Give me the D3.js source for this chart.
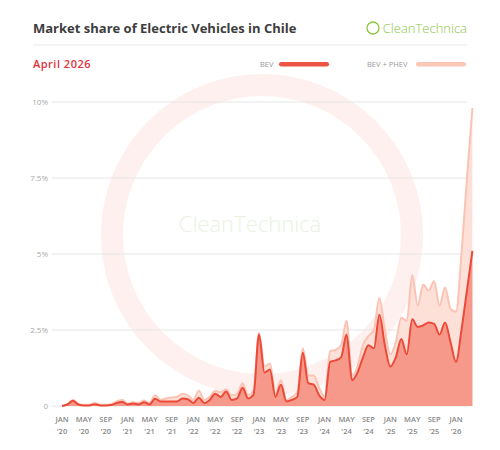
<!DOCTYPE html>
<html><head><meta charset="utf-8">
<script src="https://cdn.jsdelivr.net/npm/d3@7"></script>
<style>body{margin:0;background:#fff;font-family:"Open Sans",sans-serif}</style>
</head><body><svg id="mysvg" width="500" height="450"></svg>
<script>
// monthly market share, Jan 2020 .. Apr 2026 (percent)
let bev = [
 0,0.05,0.17,0.05,0.02,0.02,0.06,0.02,0.02,0.03,0.1,0.13,
 0.05,0.08,0.05,0.12,0.05,0.24,0.15,0.15,0.15,0.15,0.25,0.22,
 0.1,0.27,0.1,0.2,0.4,0.3,0.48,0.2,0.25,0.6,0.25,0.38,
 2.35,1.1,1.2,0.3,0.7,0.15,0.2,0.3,1.75,0.75,0.7,0.35,
 0.2,1.45,1.5,1.6,2.35,0.85,1.1,1.6,2.0,1.9,3.0,2.0,
 1.3,1.6,2.2,1.7,2.85,2.6,2.65,2.75,2.7,2.35,2.75,2.1,
 1.45,2.5,3.8,5.1
];
let bevPhev = [
 0,0.06,0.2,0.07,0.04,0.04,0.1,0.04,0.04,0.06,0.15,0.2,
 0.08,0.12,0.1,0.18,0.1,0.35,0.2,0.25,0.28,0.3,0.4,0.35,
 0.2,0.5,0.2,0.3,0.5,0.45,0.55,0.35,0.4,0.75,0.35,0.5,
 2.4,1.3,1.4,0.4,0.85,0.2,0.3,0.45,1.9,1.0,1.0,0.6,
 0.3,1.8,1.85,2.0,2.8,1.0,1.3,2.0,2.3,2.5,3.55,2.5,
 1.7,2.1,2.9,2.8,4.3,3.3,4.0,3.8,4.1,3.3,3.9,3.2,
 3.1,5.0,7.5,9.8
];
let yTicks = [0, 2.5, 5, 7.5, 10];
let yTickLabels = ["0", "2.5%", "5%", "7.5%", "10%"];
let monthNames = ["JAN","MAY","SEP"];

let svg = d3.select('#mysvg');
let x = d3.scaleLinear().domain([0, 72]).range([62, 456]);
let y = d3.scaleLinear().domain([0, 10]).range([406, 102]);

// watermark
svg.append("circle").attr("cx", 262).attr("cy", 235).attr("r", 150)
    .attr("fill", "none").attr("stroke", "#fdf0ee").attr("stroke-width", 22);
svg.append("text").attr("x", 250).attr("y", 232).attr("text-anchor", "middle")
    .attr("font-size", 22).attr("font-weight", 300).attr("fill", "#eaf2e3").text("CleanTechnica");

// header
svg.append("text").attr("x", 33).attr("y", 33).attr("font-size", 13).attr("font-weight", "bold")
    .attr("fill", "#3d3d3d").text("Market share of Electric Vehicles in Chile");
svg.append("text").attr("x", 467).attr("y", 33).attr("text-anchor", "end").attr("font-size", 13)
    .attr("font-weight", 300).attr("fill", "#8cc63f").text("CleanTechnica");
svg.append("circle").attr("cx", 373).attr("cy", 28).attr("r", 6).attr("fill", "none").attr("stroke", "#8cc63f").attr("stroke-width", 1.3);
svg.append("line").attr("x1", 33).attr("x2", 467).attr("y1", 45).attr("y2", 45).attr("stroke", "#e8e8e8");
svg.append("text").attr("x", 33).attr("y", 68).attr("font-size", 11).attr("font-weight", "600")
    .attr("fill", "#e0313b").attr("letter-spacing", 0.5).text("April 2026");

let legend = [{name:"BEV", x:260, color:"#ee5443"}, {name:"BEV + PHEV", x:367, color:"#fbc7b9"}];
legend.forEach(function(d){
    svg.append("text").attr("x", d.x).attr("y", 67).attr("font-size", 7.5).attr("fill", "#999").text(d.name);
    let w = d.name.length > 3 ? 47 : 17;
    svg.append("rect").attr("x", d.x + w + 2).attr("y", 62).attr("width", 50).attr("height", 4.5)
        .attr("rx", 2.2).attr("fill", d.color);
});

// grid
yTicks.forEach(function(t, i){
    svg.append("line").attr("x1", 52).attr("x2", 467).attr("y1", y(t)).attr("y2", y(t))
        .attr("stroke", "#e6e6e6");
    svg.append("text").attr("x", 48).attr("y", y(t) + 3).attr("text-anchor", "end")
        .attr("font-size", 8).attr("fill", "#aaa").text(yTickLabels[i]);
});

let curve = d3.curveMonotoneX;
let area = function(vals){
    return d3.area().x(function(d, i){return x(i)}).y0(y(0)).y1(function(d){return y(d)}).curve(curve)(vals);
};
let line = function(vals){
    return d3.line().x(function(d, i){return x(i)}).y(function(d){return y(d)}).curve(curve)(vals);
};

svg.append("path").attr("d", area(bevPhev)).attr("fill", "#fde0d8");
svg.append("path").attr("d", line(bevPhev)).attr("fill", "none").attr("stroke", "#fbc3b4").attr("stroke-width", 2);
svg.append("path").attr("d", area(bev)).attr("fill", "#f6998a");
svg.append("path").attr("d", line(bev)).attr("fill", "none").attr("stroke", "#ec4a38").attr("stroke-width", 2);

// x ticks
for (let m = 0; m <= 72; m += 4) {
    let g = svg.append("g").attr("transform", "translate(" + x(m) + ",0)");
    g.append("text").attr("y", 422).attr("text-anchor", "middle").attr("font-size", 7.5)
        .attr("font-weight", "600").attr("fill", "#888").text(monthNames[(m / 4) % 3]);
    g.append("text").attr("y", 434).attr("text-anchor", "middle").attr("font-size", 7.5)
        .attr("font-weight", "600").attr("fill", "#888").text("'" + (20 + Math.floor(m / 12)));
}
</script></body></html>
